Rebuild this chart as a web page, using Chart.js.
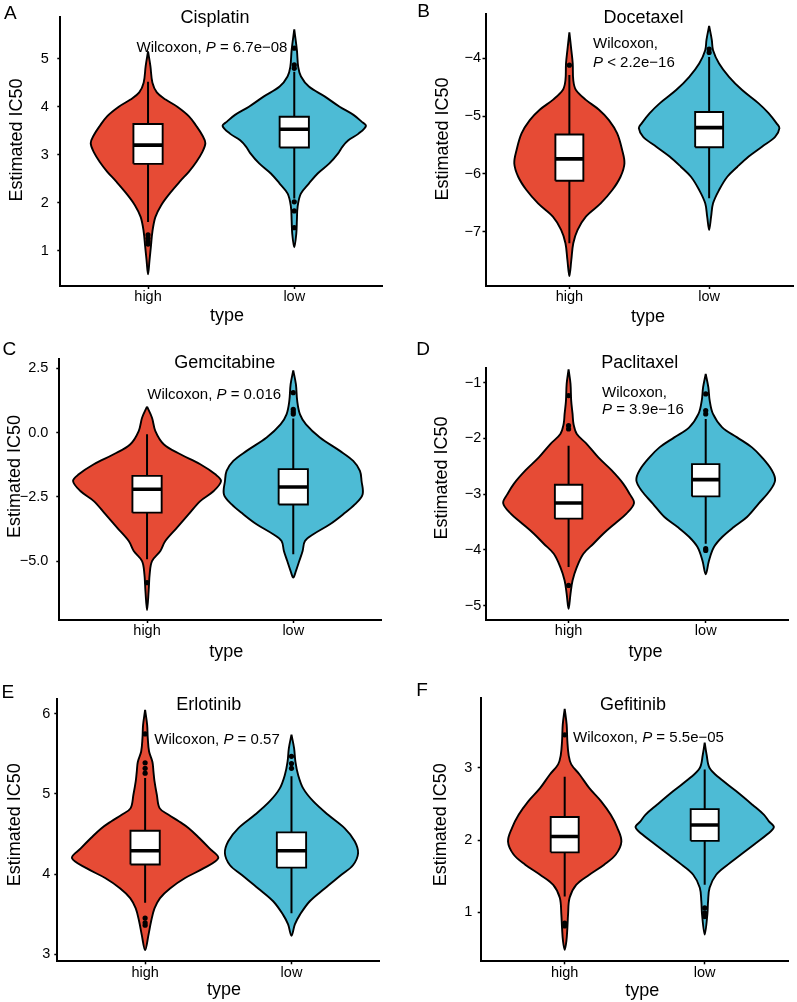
<!DOCTYPE html>
<html>
<head>
<meta charset="utf-8">
<script src="https://cdn.jsdelivr.net/npm/chart.js@4.4.1/dist/chart.umd.min.js"></script>
<style>
  body { margin: 0; background: #fff; }
  #fig { position: relative; width: 797px; height: 1002px; overflow: hidden; }
  #fig canvas { position: absolute; }
</style>
</head>
<body>
<div id="fig">
  <canvas id="panel-a" width="398" height="334" style="left:0;top:0"></canvas>
  <canvas id="panel-b" width="399" height="334" style="left:398px;top:0"></canvas>
  <canvas id="panel-c" width="398" height="334" style="left:0;top:334px"></canvas>
  <canvas id="panel-d" width="399" height="334" style="left:398px;top:334px"></canvas>
  <canvas id="panel-e" width="398" height="334" style="left:0;top:668px"></canvas>
  <canvas id="panel-f" width="399" height="334" style="left:398px;top:668px"></canvas>
</div>
<script>
const groups = ["high", "low"];
const groupColors = ["#E64B35", "#4DBBD5"];
const drugs = ["Cisplatin", "Docetaxel", "Gemcitabine", "Paclitaxel", "Erlotinib", "Gefitinib"];
const panelLetters = ["A", "B", "C", "D", "E", "F"];
const pTexts = ["= 6.7e\u221208", "< 2.2e\u221216", "= 0.016", "= 3.9e\u221216", "= 0.57", "= 5.5e\u221205"];

// y axis ticks, labels and ranges
const cisplatinTicks = [1, 2, 3, 4, 5];
const cisplatinLabels = ["1", "2", "3", "4", "5"];
const cisplatinRange = [0.266, 5.865];
const docetaxelTicks = [-7, -6, -5, -4];
const docetaxelLabels = ["\u22127", "\u22126", "\u22125", "\u22124"];
const docetaxelRange = [-7.94, -3.234];
const gemcitabineTicks = [-5, -2.5, 0, 2.5];
const gemcitabineLabels = ["\u22125.0", "\u22122.5", "0.0", "2.5"];
const gemcitabineRange = [-7.28, 2.86];
const paclitaxelTicks = [-5, -4, -3, -2, -1];
const paclitaxelLabels = ["\u22125", "\u22124", "\u22123", "\u22122", "\u22121"];
const paclitaxelRange = [-5.26, -0.74];
const erlotinibTicks = [3, 4, 5, 6];
const erlotinibLabels = ["3", "4", "5", "6"];
const erlotinibRange = [2.91, 6.19];
const gefitinibTicks = [1, 2, 3];
const gefitinibLabels = ["1", "2", "3"];
const gefitinibRange = [0.32, 3.97];

// violin outlines: [IC50 value, half width in category units], top to bottom
const cisplatinHigh = [[5.15,0],[4.85,0.016],[4.5,0.03],[4.3,0.06],[4.15,0.12],[4.0,0.2],[3.8,0.28],[3.6,0.33],[3.4,0.372],[3.24,0.392],[3.05,0.37],[2.85,0.33],[2.65,0.28],[2.45,0.22],[2.2,0.15],[1.95,0.09],[1.7,0.05],[1.4,0.03],[1.1,0.02],[0.8,0.01],[0.51,0]];
const cisplatinLow = [[5.61,0],[5.18,0.018],[4.83,0.027],[4.63,0.046],[4.42,0.1],[4.21,0.21],[4.0,0.31],[3.83,0.405],[3.69,0.46],[3.6,0.49],[3.44,0.44],[3.3,0.37],[3.17,0.33],[3.03,0.3],[2.82,0.24],[2.61,0.16],[2.4,0.1],[2.19,0.045],[1.92,0.023],[1.64,0.018],[1.36,0.014],[1.07,0]];
const docetaxelHigh = [[-3.55,0],[-3.86,0.014],[-4.09,0.024],[-4.38,0.028],[-4.55,0.047],[-4.72,0.118],[-4.89,0.212],[-5.07,0.283],[-5.3,0.342],[-5.59,0.378],[-5.82,0.394],[-6.05,0.366],[-6.28,0.307],[-6.51,0.224],[-6.74,0.118],[-6.97,0.059],[-7.2,0.028],[-7.49,0.014],[-7.77,0]];
const docetaxelLow = [[-3.44,0],[-3.68,0.019],[-3.86,0.028],[-4.09,0.071],[-4.32,0.142],[-4.55,0.236],[-4.78,0.354],[-4.95,0.425],[-5.13,0.484],[-5.21,0.503],[-5.36,0.472],[-5.53,0.378],[-5.7,0.283],[-5.88,0.201],[-6.05,0.13],[-6.28,0.071],[-6.51,0.028],[-6.74,0.014],[-6.97,0]];
const gemcitabineHigh = [[1.01,0],[0.58,0.034],[0.06,0.057],[-0.45,0.114],[-0.84,0.228],[-1.23,0.364],[-1.62,0.467],[-1.88,0.506],[-2.27,0.456],[-2.66,0.364],[-3.17,0.285],[-3.69,0.205],[-4.21,0.125],[-4.6,0.091],[-4.99,0.034],[-5.5,0.018],[-6.15,0.011],[-6.9,0]];
const gemcitabineLow = [[2.42,0],[1.88,0.018],[1.23,0.027],[0.71,0.046],[0.32,0.087],[-0.19,0.182],[-0.71,0.319],[-1.1,0.41],[-1.49,0.456],[-1.88,0.467],[-2.4,0.474],[-2.79,0.421],[-3.17,0.342],[-3.56,0.251],[-3.95,0.137],[-4.21,0.08],[-4.6,0.064],[-4.99,0.041],[-5.38,0.018],[-5.63,0]];
const paclitaxelHigh = [[-0.76,0],[-1.02,0.014],[-1.32,0.019],[-1.56,0.029],[-1.74,0.036],[-1.92,0.06],[-2.1,0.133],[-2.34,0.217],[-2.57,0.313],[-2.81,0.398],[-3.0,0.446],[-3.16,0.477],[-3.35,0.422],[-3.53,0.337],[-3.71,0.253],[-3.89,0.181],[-4.07,0.108],[-4.31,0.06],[-4.55,0.029],[-4.79,0.014],[-5.06,0]];
const paclitaxelLow = [[-0.84,0],[-1.08,0.019],[-1.32,0.029],[-1.56,0.053],[-1.8,0.12],[-1.98,0.229],[-2.16,0.337],[-2.34,0.41],[-2.57,0.482],[-2.75,0.506],[-2.93,0.47],[-3.17,0.386],[-3.41,0.301],[-3.59,0.205],[-3.77,0.12],[-3.95,0.06],[-4.19,0.024],[-4.44,0]];
const erlotinibHigh = [[6.05,0],[5.86,0.014],[5.7,0.018],[5.53,0.027],[5.4,0.05],[5.28,0.057],[5.16,0.064],[4.99,0.08],[4.82,0.1],[4.74,0.16],[4.66,0.23],[4.57,0.3],[4.45,0.37],[4.32,0.44],[4.2,0.5],[4.07,0.398],[3.95,0.273],[3.82,0.17],[3.7,0.102],[3.57,0.064],[3.41,0.041],[3.24,0.023],[3.05,0]];
const erlotinibLow = [[5.74,0],[5.57,0.018],[5.4,0.027],[5.24,0.045],[5.07,0.08],[4.91,0.148],[4.74,0.25],[4.57,0.364],[4.41,0.432],[4.26,0.455],[4.11,0.42],[3.99,0.341],[3.82,0.227],[3.66,0.125],[3.49,0.057],[3.37,0.023],[3.23,0]];
const gefitinibHigh = [[3.82,0],[3.6,0.014],[3.37,0.019],[3.18,0.028],[3.05,0.047],[2.91,0.106],[2.72,0.176],[2.54,0.259],[2.35,0.329],[2.17,0.376],[1.98,0.405],[1.8,0.365],[1.66,0.282],[1.52,0.176],[1.38,0.082],[1.2,0.035],[0.97,0.024],[0.78,0.019],[0.6,0.012],[0.48,0]];
const gefitinibLow = [[3.35,0],[3.18,0.014],[3.0,0.035],[2.86,0.106],[2.68,0.224],[2.49,0.341],[2.35,0.424],[2.26,0.459],[2.18,0.494],[2.08,0.447],[1.94,0.353],[1.8,0.259],[1.66,0.165],[1.52,0.082],[1.34,0.035],[1.15,0.024],[0.97,0.019],[0.69,0]];

// boxplots: [lower whisker, Q1, median, Q3, upper whisker]
const cisplatinBoxHigh = [1.60, 2.81, 3.20, 3.64, 4.52];
const cisplatinBoxLow = [2.09, 3.15, 3.53, 3.79, 4.73];
const docetaxelBoxHigh = [-7.2, -6.12, -5.74, -5.32, -4.29];
const docetaxelBoxLow = [-6.42, -5.54, -5.2, -4.93, -3.98];
const gemcitabineBoxHigh = [-4.92, -3.11, -2.2, -1.68, -0.06];
const gemcitabineBoxLow = [-4.73, -2.79, -2.11, -1.42, 0.55];
const paclitaxelBoxHigh = [-4.31, -3.44, -3.16, -2.83, -2.13];
const paclitaxelBoxLow = [-3.89, -3.04, -2.74, -2.46, -1.65];
const erlotinibBoxHigh = [3.64, 4.12, 4.29, 4.54, 5.2];
const erlotinibBoxLow = [3.51, 4.08, 4.29, 4.52, 5.22];
const gefitinibBoxHigh = [1.22, 1.83, 2.05, 2.32, 2.88];
const gefitinibBoxLow = [1.38, 1.99, 2.21, 2.43, 2.98];

// outliers
const cisplatinOutHigh = [1.33, 1.26, 1.19, 1.14];
const cisplatinOutLow = [5.22, 4.87, 4.80, 2.02, 1.83, 1.48];
const docetaxelOutHigh = [-4.12];
const docetaxelOutLow = [-3.84, -3.9];
const gemcitabineOutHigh = [-5.83];
const gemcitabineOutLow = [1.55, 0.9, 0.8, 0.72];
const paclitaxelOutHigh = [-1.23, -1.77, -1.83, -4.64];
const paclitaxelOutLow = [-1.2, -1.5, -1.56, -3.98, -4.01];
const erlotinibOutHigh = [5.75, 5.39, 5.32, 5.26, 3.45, 3.39, 3.36];
const erlotinibOutLow = [5.47, 5.38, 5.32];
const gefitinibOutHigh = [3.46, 0.85, 0.81];
const gefitinibOutLow = [1.06, 0.99, 0.94];

const FONT = "'Liberation Sans', Arial, Helvetica, sans-serif";

//------------panel layout (pixels inside each canvas)----------
const panels = [
  { id: "panel-a", ticks: cisplatinTicks, labels: cisplatinLabels, range: cisplatinRange,
    high: cisplatinHigh, low: cisplatinLow, boxHigh: cisplatinBoxHigh, boxLow: cisplatinBoxLow,
    outHigh: cisplatinOutHigh, outLow: cisplatinOutLow,
    area: { left: 60.3, top: 16.7, right: 382, bottom: 286 }, tickPad: 8.5,
    letter: [4, 19], title: [215, 23.3], wil: { x: 212, y: 51.7, align: "center", split: false },
    yTitle: [16.7, 140], xTitle: [227, 321] },
  { id: "panel-b", ticks: docetaxelTicks, labels: docetaxelLabels, range: docetaxelRange,
    high: docetaxelHigh, low: docetaxelLow, boxHigh: docetaxelBoxHigh, boxLow: docetaxelBoxLow,
    outHigh: docetaxelOutHigh, outLow: docetaxelOutLow,
    area: { left: 87.5, top: 14, right: 398.5, bottom: 286 }, tickPad: 1.5,
    letter: [19.3, 17.3], title: [245.5, 23.3], wil: { x: 195, y: 48.3, align: "left", split: true, gap: 19 },
    yTitle: [45.5, 139], xTitle: [250, 321.7] },
  { id: "panel-c", ticks: gemcitabineTicks, labels: gemcitabineLabels, range: gemcitabineRange,
    high: gemcitabineHigh, low: gemcitabineLow, boxHigh: gemcitabineBoxHigh, boxLow: gemcitabineBoxLow,
    outHigh: gemcitabineOutHigh, outLow: gemcitabineOutLow,
    area: { left: 59.3, top: 25, right: 381, bottom: 286 }, tickPad: 8,
    letter: [2.5, 20.7], title: [224.7, 34.3], wil: { x: 214.2, y: 65, align: "center", split: false },
    yTitle: [15.5, 142.5], xTitle: [226.3, 322.7] },
  { id: "panel-d", ticks: paclitaxelTicks, labels: paclitaxelLabels, range: paclitaxelRange,
    high: paclitaxelHigh, low: paclitaxelLow, boxHigh: paclitaxelBoxHigh, boxLow: paclitaxelBoxLow,
    outHigh: paclitaxelOutHigh, outLow: paclitaxelOutLow,
    area: { left: 88.3, top: 34.3, right: 390, bottom: 286 }, tickPad: 2,
    letter: [18.3, 20.7], title: [241.7, 34.3], wil: { x: 204, y: 63.3, align: "left", split: true, gap: 16.5 },
    yTitle: [44, 144], xTitle: [247.5, 322.7] },
  { id: "panel-e", ticks: erlotinibTicks, labels: erlotinibLabels, range: erlotinibRange,
    high: erlotinibHigh, low: erlotinibLow, boxHigh: erlotinibBoxHigh, boxLow: erlotinibBoxLow,
    outHigh: erlotinibOutHigh, outLow: erlotinibOutLow,
    area: { left: 57.3, top: 30.7, right: 379.3, bottom: 293.3 }, tickPad: 4,
    letter: [1.5, 30], title: [208.7, 42.3], wil: { x: 217, y: 76, align: "center", split: false },
    yTitle: [15.5, 156.7], xTitle: [224, 326.7] },
  { id: "panel-f", ticks: gefitinibTicks, labels: gefitinibLabels, range: gefitinibRange,
    high: gefitinibHigh, low: gefitinibLow, boxHigh: gefitinibBoxHigh, boxLow: gefitinibBoxLow,
    outHigh: gefitinibOutHigh, outLow: gefitinibOutLow,
    area: { left: 82.7, top: 30, right: 390.7, bottom: 293.3 }, tickPad: 5.5,
    letter: [18.3, 28.3], title: [235, 41.7], wil: { x: 175, y: 74, align: "left", split: false },
    yTitle: [43.3, 156.7], xTitle: [244.3, 328] },
];

//------------utility functions----------
const violinPoints = (outline, center) => {
  const left = outline.map(([v, w]) => ({ x: center - w, y: v }));
  const right = outline.slice().reverse().slice(1).map(([v, w]) => ({ x: center + w, y: v }));
  return left.concat(right);
};
const boxPoints = (stats, center, half) => [
  { x: center - half, y: stats[1] }, { x: center + half, y: stats[1] },
  { x: center + half, y: stats[3] }, { x: center - half, y: stats[3] },
  { x: center - half, y: stats[1] },
];
//---------------------------------------

const getDatasets = (p) => {
  const sets = [];
  [p.high, p.low].forEach((outline, i) => {
    sets.push({
      type: "line", data: violinPoints(outline, i + 1), fill: "shape",
      backgroundColor: groupColors[i], borderColor: "#000", borderWidth: 1.9,
      tension: 0.35, pointRadius: 0, pointHitRadius: 0, order: 5,
    });
  });
  [p.boxHigh, p.boxLow].forEach((b, i) => {
    const c = i + 1;
    sets.push({ type: "line", data: [{ x: c, y: b[0] }, { x: c, y: b[4] }],
      borderColor: "#000", borderWidth: 2, pointRadius: 0, fill: false, order: 4 });
    sets.push({ type: "line", data: boxPoints(b, c, 0.1), fill: "shape", backgroundColor: "#fff",
      borderColor: "#000", borderWidth: 1.9, borderJoinStyle: "miter", pointRadius: 0, tension: 0, order: 3 });
    sets.push({ type: "line", data: [{ x: c - 0.1, y: b[2] }, { x: c + 0.1, y: b[2] }],
      borderColor: "#000", borderWidth: 3.6, pointRadius: 0, fill: false, order: 2 });
  });
  sets.push({
    type: "scatter",
    data: p.outHigh.map((v) => ({ x: 1, y: v })).concat(p.outLow.map((v) => ({ x: 2, y: v }))),
    pointRadius: 2.6, backgroundColor: "#000", borderWidth: 0, order: 1,
  });
  return sets;
};

const drawRich = (ctx, parts, x, y, align) => {
  const fonts = parts.map((pt) => (pt.italic ? "italic " : "") + "15px " + FONT);
  const widths = parts.map((pt, i) => { ctx.font = fonts[i]; return ctx.measureText(pt.text).width; });
  const total = widths.reduce((a, b) => a + b, 0);
  let cx = align === "center" ? x - total / 2 : x;
  parts.forEach((pt, i) => { ctx.font = fonts[i]; ctx.fillText(pt.text, cx, y); cx += widths[i]; });
};

const textPlugin = (p, idx) => ({
  id: "panelText",
  afterDraw(chart) {
    const ctx = chart.ctx;
    ctx.save();
    ctx.fillStyle = "#000";
    ctx.textBaseline = "alphabetic";
    ctx.textAlign = "left";
    ctx.font = "19px " + FONT;
    ctx.fillText(panelLetters[idx], p.letter[0], p.letter[1]);
    ctx.textAlign = "center";
    ctx.font = "18px " + FONT;
    ctx.fillText(drugs[idx], p.title[0], p.title[1]);
    ctx.fillText("type", p.xTitle[0], p.xTitle[1]);
    ctx.textAlign = "left";
    const w = p.wil;
    if (w.split) {
      drawRich(ctx, [{ text: "Wilcoxon," }], w.x, w.y, w.align);
      drawRich(ctx, [{ text: "P", italic: true }, { text: " " + pTexts[idx] }], w.x, w.y + w.gap, w.align);
    } else {
      drawRich(ctx, [{ text: "Wilcoxon, " }, { text: "P", italic: true }, { text: " " + pTexts[idx] }], w.x, w.y, w.align);
    }
    ctx.translate(p.yTitle[0], p.yTitle[1]);
    ctx.rotate(-Math.PI / 2);
    ctx.textAlign = "center";
    ctx.textBaseline = "middle";
    ctx.font = "18px " + FONT;
    ctx.fillText("Estimated IC50", 0, 0);
    ctx.restore();
  },
});

const axisGrid = { drawOnChartArea: false, drawTicks: true, tickLength: 3, tickWidth: 1.5, tickColor: "#000", color: "#000" };
const axisBorder = { display: true, color: "#000", width: 2 };

const getConfig = (p, idx) => {
  const canvas = document.getElementById(p.id);
  const W = canvas.width, H = canvas.height;
  return {
    type: "scatter",
    data: { datasets: getDatasets(p) },
    options: {
      responsive: false,
      animation: false,
      events: [],
      layout: { padding: { top: p.area.top, right: W - p.area.right, left: 0, bottom: 0 } },
      scales: {
        x: {
          type: "linear", min: 0.4, max: 2.6,
          afterBuildTicks: (s) => { s.ticks = [{ value: 1 }, { value: 2 }]; },
          afterFit: (s) => { s.height = H - p.area.bottom; },
          ticks: { callback: (v) => groups[v - 1], color: "#000", padding: 1, maxRotation: 0, autoSkip: false,
            font: { family: FONT, size: 14.5, lineHeight: 1 } },
          grid: axisGrid, border: axisBorder,
        },
        y: {
          type: "linear", min: p.range[0], max: p.range[1],
          afterBuildTicks: (s) => { s.ticks = p.ticks.map((v) => ({ value: v })); },
          afterFit: (s) => { s.width = p.area.left; },
          ticks: { callback: (v, i) => p.labels[i], color: "#000", padding: p.tickPad, autoSkip: false,
            font: { family: FONT, size: 14.5 } },
          grid: axisGrid, border: axisBorder,
        },
      },
      plugins: { legend: { display: false }, tooltip: { enabled: false } },
    },
    plugins: [textPlugin(p, idx)],
  };
};

panels.forEach((p, idx) => {
  new Chart(document.getElementById(p.id), getConfig(p, idx));
});
</script>
</body>
</html>
